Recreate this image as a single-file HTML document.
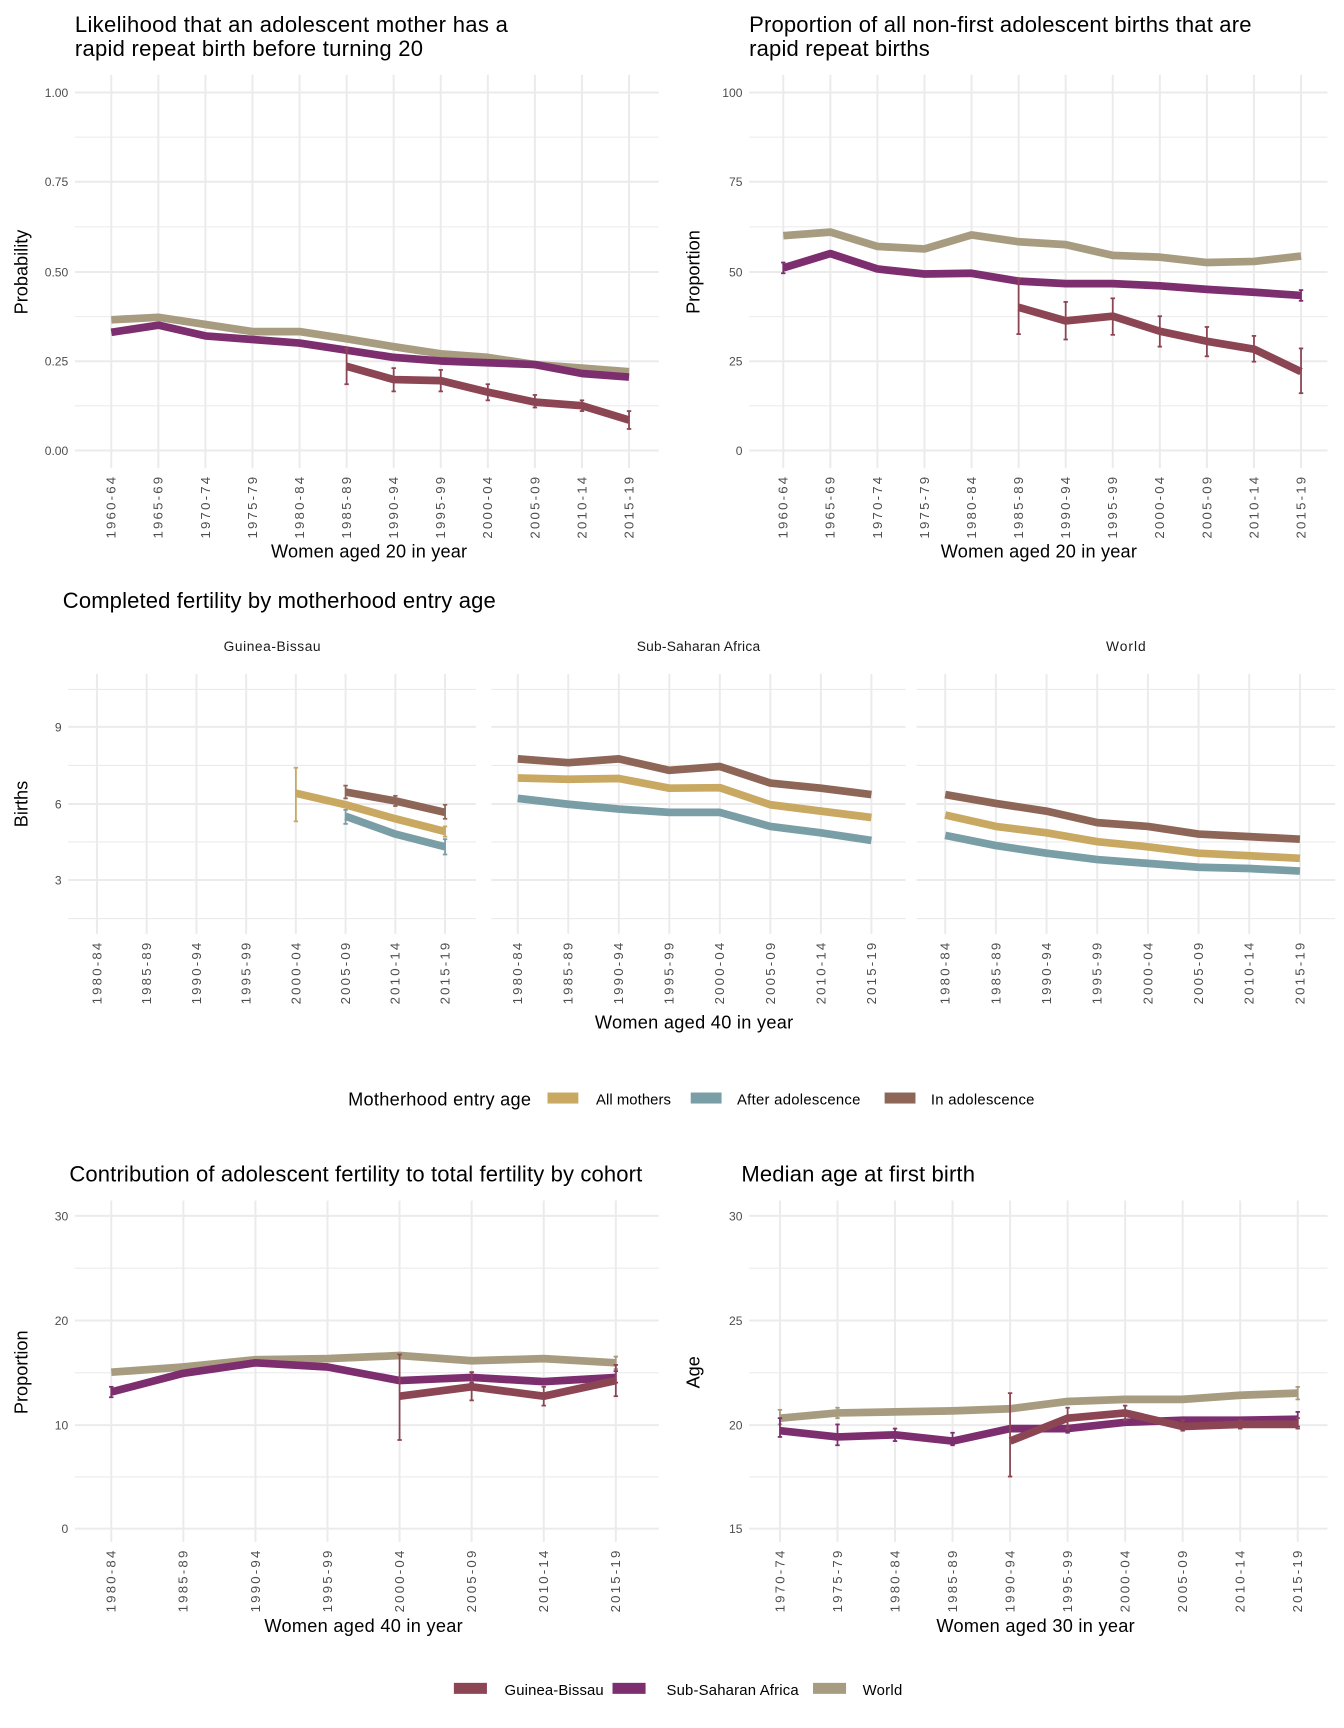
<!DOCTYPE html>
<html><head><meta charset="utf-8">
<style>
html,body{margin:0;padding:0;background:#fff;}
svg{display:block;font-family:"Liberation Sans",Arial,sans-serif;}
</style></head>
<body>
<svg id="s" width="1344" height="1728" viewBox="0 0 1220 1569" preserveAspectRatio="none" xmlns="http://www.w3.org/2000/svg"></svg>
<script>
var NS="http://www.w3.org/2000/svg",S=document.getElementById('s');
function el(t,a,txt){var e=document.createElementNS(NS,t);for(var k in a)e.setAttribute(k,a[k]);if(txt!==undefined)e.textContent=txt;S.appendChild(e);return e;}
function line(x1,y1,x2,y2,c,w){el('line',{x1:x1,y1:y1,x2:x2,y2:y2,stroke:c,'stroke-width':w});}
function text(x,y,t,o){o=o||{};var a={x:x,y:y,'font-size':o.fs||11,fill:o.c||'#4d4d4d'};if(o.a)a['text-anchor']=o.a;if(o.tr)a.transform=o.tr;if(o.tl)a.textLength=o.tl;el('text',a,t);}
var G='#ebebeb',GB='#8b4553',SSA='#7d2e6f',W='#a89c80',AM='#c9a862',AA='#7a9ea6',IA='#8e6657';
function panel(p){
  p.minor.forEach(function(y){line(p.x0,y,p.x1,y,G,1);});
  p.yt.forEach(function(t){line(p.x0,t.y,p.x1,t.y,G,1.8);if(p.ylab!==false)text(p.x0-6,t.y+4,t.l,{a:'end'});});
  p.xs.forEach(function(x,i){line(x,p.y0,x,p.y1,G,1.8);
    text(x+4,p.y1+8,p.labels[i],{a:'end',fs:12,tl:56,tr:'rotate(-90 '+(x+4)+' '+(p.y1+8)+')'});});
}
function series(p,vals,start,col,err,lw){
  var pts=[];vals.forEach(function(v,i){if(v!==null)pts.push((p.xs[start+i])+','+p.fy(v));});
  if(err)err.forEach(function(e,i){if(!e)return;var x=p.xs[start+i];line(x,p.fy(e[0]),x,p.fy(e[1]),col,1.6);
    line(x-2,p.fy(e[0]),x+2,p.fy(e[0]),col,1.6);line(x-2,p.fy(e[1]),x+2,p.fy(e[1]),col,1.6);});
  el('polyline',{points:pts.join(' '),fill:'none',stroke:col,'stroke-width':lw||7,'stroke-linejoin':'round'});
}
function xsF(a,b,n){var r=[];for(var i=0;i<n;i++)r.push(a+(b-a)*i/(n-1));return r;}
var L20=['1960-64','1965-69','1970-74','1975-79','1980-84','1985-89','1990-94','1995-99','2000-04','2005-09','2010-14','2015-19'];
var L40=L20.slice(4),L30=L20.slice(2);
var TF=20,AF=16.5;
var p1={x0:68,x1:598,y0:68,y1:425,xs:xsF(101,571,12),labels:L20,
 yt:[{l:'0.00',y:409},{l:'0.25',y:328},{l:'0.50',y:247},{l:'0.75',y:165},{l:'1.00',y:84}],
 minor:[368.5,287.5,206,124.5],fy:function(v){return 409-v*325;}};
panel(p1);
text(68,29,'Likelihood that an adolescent mother has a',{fs:TF,c:'#000',tl:393});
text(68,51,'rapid repeat birth before turning 20',{fs:TF,c:'#000',tl:316});
text(335,506,'Women aged 20 in year',{fs:AF,c:'#000',a:'middle',tl:178});
text(25,247,'Probability',{fs:AF,c:'#000',a:'middle',tr:'rotate(-90 25 247)'});
series(p1,[0.365,0.372,0.352,0.332,0.332,0.312,0.29,0.27,0.26,0.24,0.23,0.22],0,W);
series(p1,[0.33,0.35,0.32,0.31,0.30,0.28,0.26,0.25,0.245,0.24,0.215,0.205],0,SSA);
series(p1,[0.235,0.198,0.195,0.163,0.135,0.125,0.085],5,GB,[[0.185,0.285],[0.165,0.23],[0.165,0.225],[0.14,0.185],[0.12,0.155],[0.11,0.14],[0.06,0.11]]);
var p2={x0:680,x1:1205,y0:68,y1:425,xs:xsF(711,1181,12),labels:L20,
 yt:[{l:'0',y:409},{l:'25',y:328},{l:'50',y:247},{l:'75',y:165},{l:'100',y:84}],
 minor:[368.5,287.5,206,124.5],fy:function(v){return 409-v*3.25;}};
panel(p2);
text(680,29,'Proportion of all non-first adolescent births that are',{fs:TF,c:'#000',tl:456});
text(680,51,'rapid repeat births',{fs:TF,c:'#000',tl:164});
text(943,506,'Women aged 20 in year',{fs:AF,c:'#000',a:'middle',tl:178});
text(635,247,'Proportion',{fs:AF,c:'#000',a:'middle',tr:'rotate(-90 635 247)'});
series(p2,[60,61,57,56.3,60.2,58.3,57.5,54.5,54,52.5,52.8,54.3],0,W);
series(p2,[51,55,50.7,49.3,49.5,47.3,46.6,46.6,46,45,44.2,43.3],0,SSA,[[49.5,52.5],null,null,null,null,null,null,null,null,null,null,[41.8,44.8]]);
series(p2,[40,36.2,37.5,33.3,30.5,28.3,22],5,GB,[[32.5,48],[31,41.5],[32.3,42.5],[29,37.5],[26.3,34.5],[24.8,32],[16,28.5]]);
text(57,552,'Completed fertility by motherhood entry age',{fs:TF,c:'#000',tl:393});
var facets=[['Guinea-Bissau',62,432,88,404,88],['Sub-Saharan Africa',446,822,470,791,112],['World',832,1212,858,1180,36]];
var fp=[];
facets.forEach(function(f,i){
 var p={x0:f[1],x1:f[2],y0:612,y1:848,xs:xsF(f[3],f[4],8),labels:L40,
  yt:[{l:'3',y:799},{l:'6',y:730},{l:'9',y:660}],minor:[834,764.5,695,626],ylab:i==0,
  fy:function(v){return 799-(v-3)*23.15;}};
 panel(p);fp.push(p);
 text((f[1]+f[2])/2,591,f[0],{fs:12.5,c:'#1a1a1a',a:'middle',tl:f[5]});
});
text(630,934,'Women aged 40 in year',{fs:AF,c:'#000',a:'middle',tl:180});
text(25,730,'Births',{fs:AF,c:'#000',a:'middle',tr:'rotate(-90 25 730)'});
series(fp[0],[6.4,5.95,5.4,4.9],4,AM,[[5.3,7.4],null,null,[4.7,5.1]]);
series(fp[0],[5.5,4.8,4.3],5,AA,[[5.2,5.75],null,[4.0,4.6]]);
series(fp[0],[6.45,6.1,5.65],5,IA,[[6.2,6.7],[5.9,6.3],[5.4,5.95]]);
series(fp[1],[7.75,7.6,7.75,7.3,7.45,6.8,6.6,6.35],0,IA);
series(fp[1],[7.0,6.95,6.98,6.6,6.62,5.95,5.7,5.45],0,AM);
series(fp[1],[6.2,5.97,5.78,5.65,5.65,5.1,4.85,4.55],0,AA);
series(fp[2],[6.35,6.0,5.7,5.25,5.1,4.8,4.7,4.6],0,IA);
series(fp[2],[5.55,5.1,4.85,4.5,4.3,4.05,3.95,3.85],0,AM);
series(fp[2],[4.75,4.35,4.05,3.8,3.65,3.5,3.45,3.35],0,AA);
text(316,1004,'Motherhood entry age',{fs:AF,c:'#000',tl:166});
el('rect',{x:497,y:992,width:28,height:10,fill:AM});text(541,1003,'All mothers',{fs:13.5,c:'#000',tl:68});
el('rect',{x:627,y:992,width:28,height:10,fill:AA});text(669,1003,'After adolescence',{fs:13.5,c:'#000',tl:112});
el('rect',{x:803,y:992,width:28,height:10,fill:IA});text(845,1003,'In adolescence',{fs:13.5,c:'#000',tl:94});
var p3={x0:68,x1:598,y0:1090,y1:1400,xs:xsF(101,559,8),labels:L40,
 yt:[{l:'0',y:1388},{l:'10',y:1294},{l:'20',y:1199},{l:'30',y:1104}],
 minor:[1341,1246.5,1151.5],fy:function(v){return 1388-v*9.47;}};
panel(p3);
text(63,1073,'Contribution of adolescent fertility to total fertility by cohort',{fs:TF,c:'#000',tl:520});
text(330,1482,'Women aged 40 in year',{fs:AF,c:'#000',a:'middle',tl:180});
text(25,1246,'Proportion',{fs:AF,c:'#000',a:'middle',tr:'rotate(-90 25 1246)'});
series(p3,[15,15.5,16.2,16.3,16.6,16.1,16.3,15.9],0,W,[null,null,null,null,null,null,null,[15.3,16.5]]);
series(p3,[13.1,14.9,15.9,15.5,14.2,14.5,14.1,14.5],0,SSA,[[12.6,13.6],null,null,null,null,[14,15],null,[14,15.1]]);
series(p3,[12.7,13.6,12.7,14.2],4,GB,[[8.5,16.7],[12.3,15],[11.8,13.6],[12.7,15.7]]);
var p4={x0:680,x1:1205,y0:1090,y1:1400,xs:xsF(708,1178,10),labels:L30,
 yt:[{l:'15',y:1388},{l:'20',y:1294},{l:'25',y:1199},{l:'30',y:1104}],
 minor:[1341,1246.5,1151.5],fy:function(v){return 1388-(v-15)*18.93;}};
panel(p4);
text(673,1073,'Median age at first birth',{fs:TF,c:'#000',tl:212});
text(940,1482,'Women aged 30 in year',{fs:AF,c:'#000',a:'middle',tl:180});
text(635,1246,'Age',{fs:AF,c:'#000',a:'middle',tr:'rotate(-90 635 1246)'});
series(p4,[20.3,20.55,20.6,20.65,20.75,21.1,21.2,21.2,21.4,21.5],0,W,[[20,20.7],[20.3,20.8],null,null,null,null,null,null,null,[21.2,21.8]]);
series(p4,[19.7,19.4,19.5,19.2,19.8,19.8,20.1,20.2,20.2,20.25],0,SSA,[[19.4,20.3],[19,20],[19.2,19.8],[19,19.6],null,[19.6,20.2],null,null,null,[19.9,20.6]]);
series(p4,[19.2,20.3,20.55,19.9,20.0,20.0],4,GB,[[17.5,21.5],[19.8,20.8],[20.2,20.9],[19.7,20.2],[19.8,20.2],[19.8,20.3]]);
el('rect',{x:412,y:1528,width:30,height:10,fill:GB});text(458,1539,'Guinea-Bissau',{fs:13.5,c:'#000',tl:90});
el('rect',{x:556,y:1528,width:30,height:10,fill:SSA});text(605,1539,'Sub-Saharan Africa',{fs:13.5,c:'#000',tl:120});
el('rect',{x:738,y:1528,width:30,height:10,fill:W});text(783,1539,'World',{fs:13.5,c:'#000',tl:36});
</script>
</body></html>
